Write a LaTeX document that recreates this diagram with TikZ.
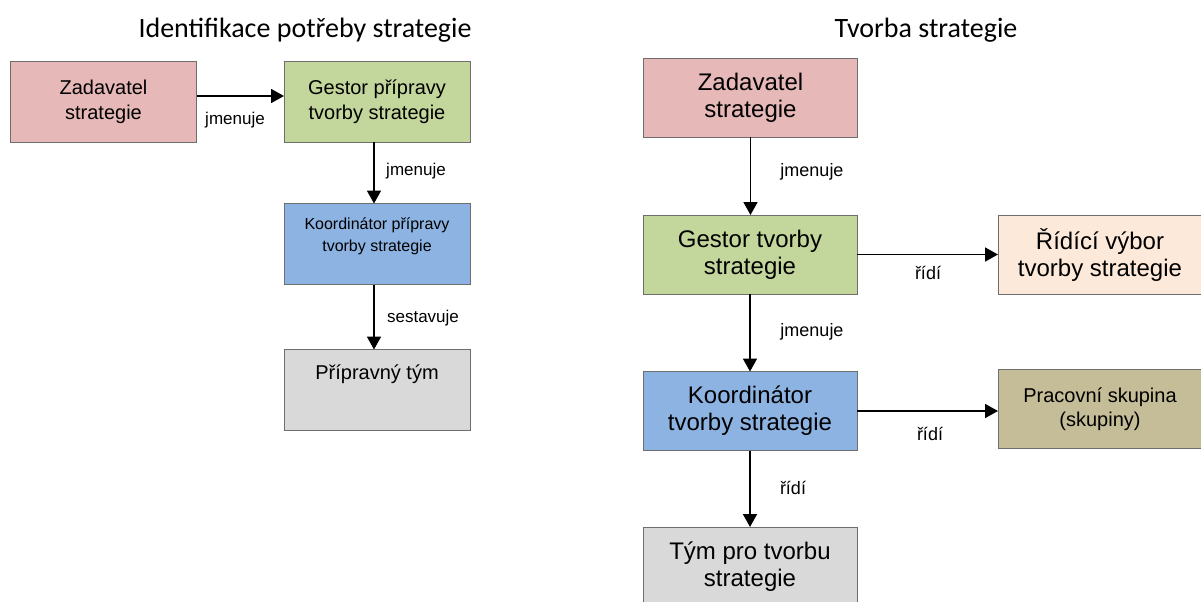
\documentclass[tikz,border=0pt]{standalone}
\usepackage{fontspec}
\setmainfont{Liberation Sans}
\newfontfamily\titlefont{Carlito}
\usetikzlibrary{arrows.meta}
\definecolor{cZad}{HTML}{E6B8B7}
\definecolor{cGes}{HTML}{C3D69B}
\definecolor{cKoo}{HTML}{8DB3E2}
\definecolor{cTym}{HTML}{D9D9D9}
\definecolor{cRid}{HTML}{FDE9D9}
\definecolor{cPra}{HTML}{C4BD97}
\definecolor{cBord}{HTML}{6E6E6E}
\begin{document}
\begin{tikzpicture}[x=0.5pt,y=-0.5pt,
  box/.style={draw=cBord, line width=0.5pt, inner sep=0pt, outer sep=0pt, align=center},
  lbox/.style={box, minimum width=93pt, minimum height=40.5pt, font=\fontsize{10}{12.5}\selectfont},
  rbox/.style={box, minimum width=107pt, minimum height=39.5pt, font=\fontsize{12}{13.5}\selectfont},
  ebox/.style={box, minimum width=102pt, minimum height=39.5pt, font=\fontsize{12}{13.5}\selectfont},
  arr/.style={-{Triangle[length=6.5pt,width=7pt]}, line width=0.9pt, black},
  llab/.style={font=\fontsize{8.5}{10}\selectfont, inner sep=0pt},
  rlab/.style={font=\fontsize{9}{11}\selectfont, inner sep=0pt},
  ttl/.style={font=\titlefont\fontsize{14}{16}\selectfont, inner sep=0pt}
]
\useasboundingbox (0,0) rectangle (1201,601);
\clip (0,0) rectangle (1201,601);

% titles
\node[ttl] (t1) at (305,30) {Identifikace potřeby strategie};
\node[ttl] (t2) at (926,30) {Tvorba strategie};

% left column
\node[lbox, fill=cZad] (z1) at (103.5,101.5) {Zadavatel\\strategie};
\node[lbox, fill=cGes] (g1) at (377,101.5) {Gestor přípravy\\tvorby strategie};
\node[lbox, fill=cKoo] (k1) at (377,244) {};
\node[align=center, inner sep=0pt, font=\fontsize{8}{11}\selectfont] (k1t) at (377,236) {Koordinátor přípravy\\tvorby strategie};
\node[lbox, fill=cTym] (p1) at (377,390) {};
\node[inner sep=0pt, font=\fontsize{10}{12.5}\selectfont] (p1t) at (377,374) {Přípravný tým};

\draw[arr] ([yshift=2.75pt]z1.east) -- ([yshift=2.75pt]g1.west);
\draw[arr] ([xshift=-1.5pt]g1.south) -- ([xshift=-1.5pt]k1.north);
\draw[arr] ([xshift=-1.5pt]k1.south) -- ([xshift=-1.5pt]p1.north);

\node[llab] (l1) at (235,120) {jmenuje};
\node[llab] (l2) at (416,171) {jmenuje};
\node[llab] (l3) at (423,318) {sestavuje};

% right column
\node[rbox, fill=cZad] (z2) at (750.5,97.5) {Zadavatel\\strategie};
\node[rbox, fill=cGes] (g2) at (750,254.5) {Gestor tvorby\\strategie};
\node[rbox, fill=cKoo] (k2) at (750,411) {Koordinátor\\tvorby strategie};
\node[rbox, fill=cTym] (tt2) at (750,566.5) {Tým pro tvorbu\\strategie};
\node[ebox, fill=cRid] (r2) at (1100,254.5) {Řídící výbor\\tvorby strategie};
\node[ebox, fill=cPra, font=\fontsize{10}{12}\selectfont] (pr2) at (1100,409) {Pracovní skupina\\(skupiny)};

\draw[arr] (z2.south) -- (z2.south |- g2.north);
\draw[arr] (g2.south) -- (g2.south |- k2.north);
\draw[arr] (k2.south) -- (k2.south |- tt2.north);
\draw[arr] (g2.east) -- (g2.east -| r2.west);
\draw[arr] (k2.east) -- (k2.east -| pr2.west);

\node[rlab] (l4) at (812,172) {jmenuje};
\node[rlab] (l5) at (928,273) {řídí};
\node[rlab] (l6) at (812,332) {jmenuje};
\node[rlab] (l7) at (930,434) {řídí};
\node[rlab] (l8) at (793,488) {řídí};
\end{tikzpicture}
\end{document}
